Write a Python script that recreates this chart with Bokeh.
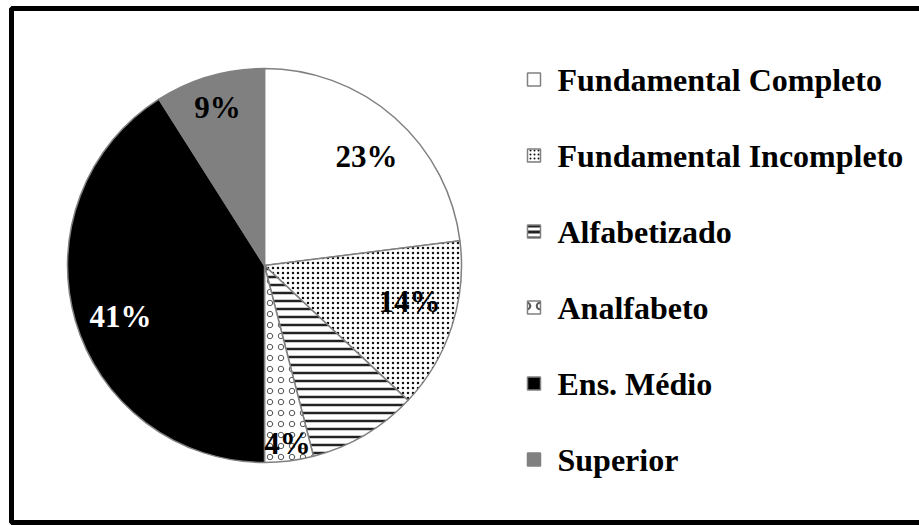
import math
from bokeh.plotting import figure
from bokeh.models import Range1d, ColumnDataSource
from bokeh.core.properties import value
from bokeh.embed import file_html
from bokeh.resources import INLINE

# ---- data ----
categories = ["Fundamental Completo", "Fundamental Incompleto", "Alfabetizado",
              "Analfabeto", "Ens. Médio", "Superior"]
percents = [23, 14, 9, 4, 41, 9]
label_text = ["23%", "14%", "", "4%", "41%", "9%"]

# ---- styles ----
fills = ["white", "white", "white", "white", "black", "#808080"]
hatches = [" ", "dot", "horizontal_line", "ring", " ", " "]
hatch_scales = [1, 5, 8, 11, 1, 1]
hatch_weights = [1, 2.5, 2.5, 1, 1, 1]
hatch_colors = ["black", "#111111", "#222222", "#555555", "black", "black"]
label_colors = ["black", "black", "black", "black", "white", "black"]
label_rfrac = [0.758, 0.758, 0.80, 0.91, 0.776, 0.837]
label_dangle = [1.7, -4.1, 0.0, -0.2, -3.3, -0.4]   # degrees, clockwise shift from slice middle

W, H = 919, 525
CX, CY, R = 264, 260, 197
FONT = "Times New Roman"

total = float(sum(percents))
starts, ends, lx, ly = [], [], [], []
cum = 0.0
for v, rf, da in zip(percents, label_rfrac, label_dangle):
    a0 = math.pi / 2 - 2 * math.pi * cum / total
    a1 = math.pi / 2 - 2 * math.pi * (cum + v) / total
    starts.append(a0)
    ends.append(a1)
    am = (a0 + a1) / 2 - math.radians(da)
    lx.append(CX + rf * R * math.cos(am))
    ly.append(CY + rf * R * math.sin(am))
    cum += v

p = figure(width=W, height=H, output_backend="svg", toolbar_location=None,
           x_range=Range1d(0, W), y_range=Range1d(0, H), min_border=0)
p.axis.visible = False
p.grid.visible = False
p.outline_line_color = None
p.background_fill_color = "white"
p.border_fill_color = "white"

src = ColumnDataSource(dict(start=starts, end=ends, fill=fills, hatch=hatches,
                            hs=hatch_scales, hw=hatch_weights, hc=hatch_colors))
p.wedge(x=CX, y=CY, radius=R, start_angle="start", end_angle="end", direction="clock",
        fill_color="fill", line_color="#808080", line_width=1.5,
        hatch_pattern="hatch", hatch_scale="hs", hatch_weight="hw", hatch_color="hc",
        source=src)

lsrc = ColumnDataSource(dict(x=lx, y=ly, t=label_text, c=label_colors))
p.text(x="x", y="y", text="t", text_color="c", source=lsrc,
       text_align="center", text_baseline="middle",
       text_font=value(FONT), text_font_style="bold", text_font_size="31px")

# legend
LX, LTX, LY0, LDY = 533.5, 557, 446, 76
ly_rows = [LY0 - LDY * i for i in range(len(categories))]
leg_hs = [1, 4, 6, 13, 1, 1]
leg_hw = [1, 2, 3, 2, 1, 1]
msrc = ColumnDataSource(dict(x=[LX] * len(categories), y=ly_rows, fill=fills, hatch=hatches,
                             hs=leg_hs, hw=leg_hw, hc=hatch_colors))
p.rect(x="x", y="y", width=13, height=13, fill_color="fill", line_color="#808080",
       line_width=1.5, hatch_pattern="hatch", hatch_scale="hs", hatch_weight="hw",
       hatch_color="hc", source=msrc)
tsrc = ColumnDataSource(dict(x=[LTX] * len(categories), y=ly_rows, t=categories))
p.text(x="x", y="y", text="t", source=tsrc, text_align="left", text_baseline="middle",
       text_font=value(FONT), text_font_style="bold", text_font_size="32px",
       text_color="black")

# chart frame border
p.quad(left=[11], right=[960], top=[517], bottom=[3], fill_color=None,
       line_color="black", line_width=5)

open("out.html", "w").write(file_html(p, INLINE))
